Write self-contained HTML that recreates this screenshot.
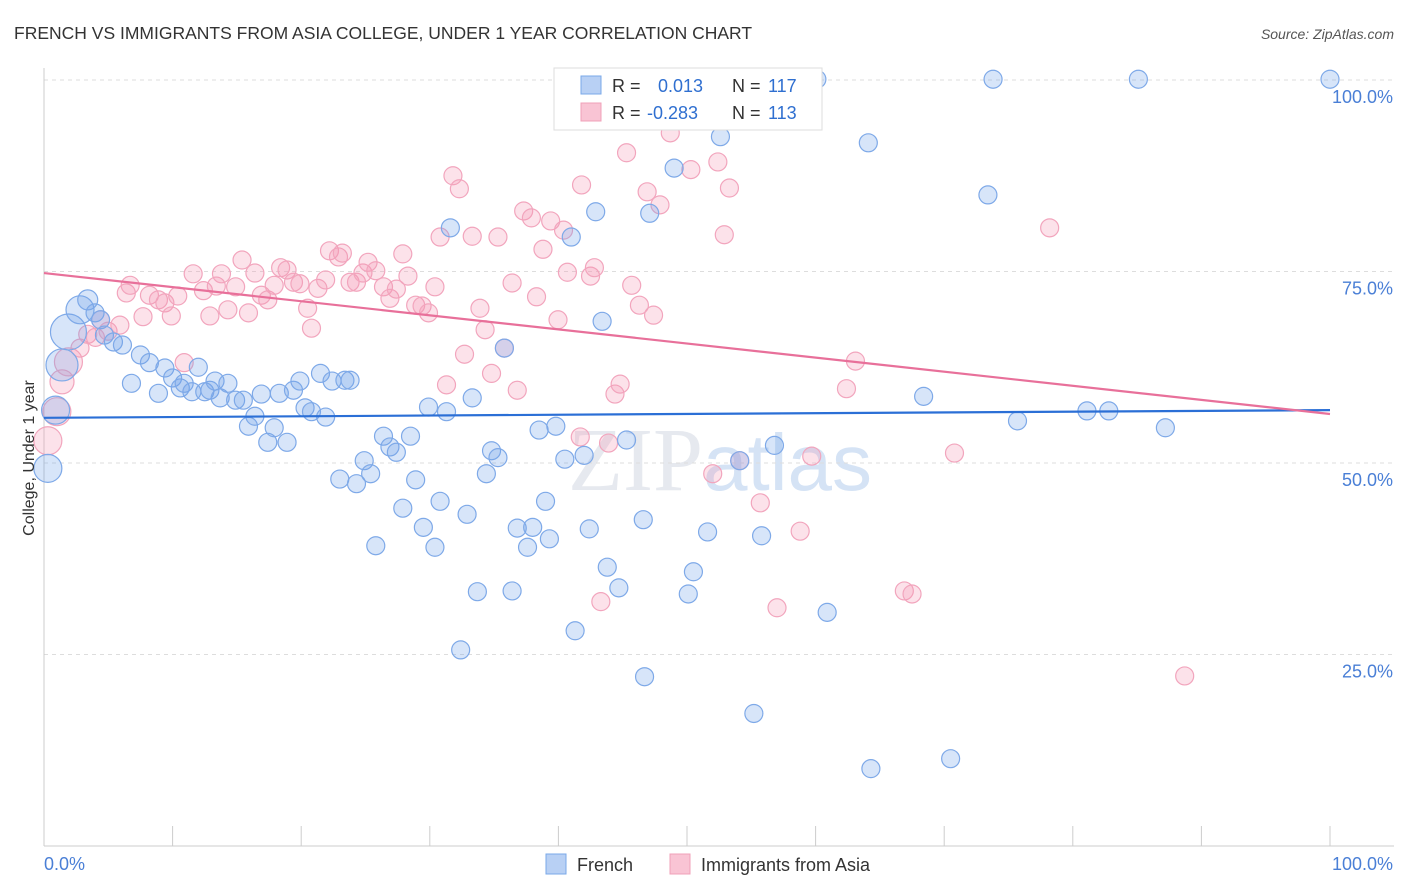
<!DOCTYPE html>
<html><head><meta charset="utf-8"><style>
body{margin:0;background:#fff;font-family:"Liberation Sans",sans-serif;}
svg{display:block}
</style></head><body>
<svg id="chart" width="1406" height="892" xmlns="http://www.w3.org/2000/svg">
<text x="14" y="39" font-size="17.5" fill="#333">FRENCH VS IMMIGRANTS FROM ASIA COLLEGE, UNDER 1 YEAR CORRELATION CHART</text>
<text x="1394" y="39" font-size="14" font-style="italic" fill="#555" text-anchor="end">Source: ZipAtlas.com</text>
<text x="720" y="490" font-size="90" fill="#e6e9ef" text-anchor="middle" font-family="Liberation Serif, serif">ZIP<tspan fill="#d5e3f5" font-family="Liberation Sans, sans-serif" font-size="80">atlas</tspan></text>
<g id="grid"></g>
<g id="axes"></g>
<g id="marks"></g>
<g id="trends"></g>
<text transform="translate(34,458) rotate(-90)" font-size="16" fill="#333" text-anchor="middle">College, Under 1 year</text>
<g>
<rect x="554" y="68" width="268" height="62" fill="#fff" stroke="#ddd"/>
<rect x="581" y="76" width="20" height="18" fill="#b8d0f4" stroke="#7aa8e8"/>
<rect x="581" y="103" width="20" height="18" fill="#f9c4d4" stroke="#f0a0b8"/>
<text x="612" y="92" font-size="18" fill="#333">R =</text>
<text x="658" y="92" font-size="18" fill="#2f6fd0">0.013</text>
<text x="732" y="92" font-size="18" fill="#333">N =</text>
<text x="768" y="92" font-size="18" fill="#2f6fd0">117</text>
<text x="612" y="119" font-size="18" fill="#333">R =</text>
<text x="647" y="119" font-size="18" fill="#2f6fd0">-0.283</text>
<text x="732" y="119" font-size="18" fill="#333">N =</text>
<text x="768" y="119" font-size="18" fill="#2f6fd0">113</text>
</g>
<g>
<rect x="546" y="854" width="20" height="20" fill="#b8d0f4" stroke="#7aa8e8"/>
<text x="577" y="871" font-size="18" fill="#333">French</text>
<rect x="670" y="854" width="20" height="20" fill="#f9c4d4" stroke="#f0a0b8"/>
<text x="701" y="871" font-size="18" fill="#333">Immigrants from Asia</text>
</g>
</svg>
<script>
const blueX=[0.3,0.9,1.4,1.9,2.8,3.4,3.97,4.4,4.7,5.4,6.1,6.8,7.5,8.2,8.9,9.4,10.0,10.6,10.9,11.5,12.0,12.5,12.9,13.3,13.7,14.3,14.9,15.5,15.9,16.4,16.9,17.4,17.9,18.3,18.9,19.4,19.9,20.3,20.8,21.5,21.9,22.4,23.0,23.4,23.8,24.3,24.9,25.4,25.8,26.4,26.9,27.4,27.9,28.5,28.9,29.5,29.9,30.4,30.8,31.3,31.6,32.4,32.9,33.3,33.7,34.4,34.8,35.3,35.8,36.4,36.8,37.6,38.0,38.5,39.0,39.3,39.8,40.5,41.0,41.3,42.0,42.4,42.9,43.4,43.8,44.7,45.3,46.6,46.7,47.1,49.0,50.1,50.5,51.6,52.6,54.1,55.2,55.8,56.8,60.1,60.9,64.1,64.3,68.4,70.5,73.4,73.8,75.7,81.1,82.8,85.1,87.2,100];
const blueY=[49.3,56.9,62.8,67.1,70.0,71.3,69.6,68.7,66.7,65.8,65.4,60.4,64.1,63.1,59.1,62.4,61.1,59.8,60.4,59.3,62.5,59.3,59.5,60.7,58.5,60.4,58.2,58.2,54.8,56.1,59.0,52.7,54.6,59.1,52.7,59.5,60.7,57.2,56.7,61.7,56.0,60.7,47.9,60.8,60.8,47.3,50.3,48.6,39.2,53.5,52.1,51.4,44.1,53.5,47.8,41.6,57.3,39.0,45.0,56.7,80.7,25.6,43.3,58.5,33.2,48.6,51.6,50.7,65.0,33.3,41.5,39.0,41.6,54.3,45.0,40.1,54.8,50.5,79.5,28.1,51.0,41.4,82.8,68.5,36.4,33.7,53.0,42.6,22.1,82.6,88.5,32.9,35.8,41.0,92.6,50.3,17.3,40.5,52.3,100.1,30.5,91.8,10.1,58.7,11.4,85.0,100.1,55.5,56.8,56.8,100.1,54.6,100.1];
const blueR=[14,14,16,18,14,10];
const pinkX=[0.3,1.0,1.4,1.9,2.8,3.4,4.0,4.4,4.98,5.9,6.4,6.7,7.7,8.2,8.9,9.4,9.9,10.4,10.9,11.6,12.4,12.9,13.4,13.8,14.3,14.9,15.4,15.9,16.4,16.9,17.4,17.9,18.4,18.9,19.4,19.9,20.5,20.8,21.3,21.9,22.2,22.9,23.2,23.8,24.3,24.8,25.2,25.8,26.4,26.9,27.4,27.9,28.3,28.9,29.4,29.9,30.4,30.8,31.3,31.8,32.3,32.7,33.3,33.9,34.3,34.8,35.3,35.8,36.4,36.8,37.3,37.9,38.3,38.8,39.4,39.97,40.4,40.7,41.7,41.8,42.5,42.8,43.3,43.9,44.4,44.8,45.3,45.7,46.3,46.9,47.4,47.9,48.7,50.3,52.0,52.4,52.9,53.3,54.1,55.7,57.0,58.8,59.7,62.4,63.1,66.9,67.5,70.8,78.2,88.7];
const pinkY=[52.9,56.7,60.6,63.2,65.0,66.8,66.4,68.7,67.2,68.0,72.2,73.2,69.1,71.9,71.3,70.9,69.2,71.8,63.1,74.7,72.5,69.2,73.1,74.7,70.0,73.0,76.5,69.6,74.8,71.9,71.3,73.2,75.5,75.2,73.6,73.4,70.2,67.6,72.8,73.9,77.7,76.9,77.4,73.6,73.6,74.8,76.2,75.1,73.0,71.5,72.7,77.3,74.4,70.6,70.5,69.6,73.0,79.5,60.2,87.5,85.8,64.2,79.6,70.2,67.4,61.7,79.5,65.0,73.5,59.5,82.9,82.0,71.7,77.9,81.6,68.7,80.4,74.9,53.4,86.3,74.4,75.5,31.9,52.6,59.0,60.3,90.5,73.2,70.6,85.4,69.3,83.7,93.1,88.3,48.6,89.3,79.8,85.9,50.3,44.8,31.1,41.1,50.9,59.7,63.3,33.3,32.9,51.3,80.7,22.2];
const pinkR=[14,14,12,14];
const blueTrend=[55.9,56.9];
const pinkTrend=[74.8,56.4];
const yTicks=[25,50,75,100];
const yTickLabels=["25.0%","50.0%","75.0%","100.0%"];
const xTicks=[0,10,20,30,40,50,60,70,80,90,100];

const NS="http://www.w3.org/2000/svg";
const sx=v=>44+v*12.86;
const sy=v=>846-v*7.66;
function mk(tag,attrs,parent){const e=document.createElementNS(NS,tag);for(const k in attrs)e.setAttribute(k,attrs[k]);parent.appendChild(e);return e;}
const grid=document.getElementById('grid'),axes=document.getElementById('axes'),marks=document.getElementById('marks'),trends=document.getElementById('trends');
yTicks.forEach((t,i)=>{
  const l=mk('line',{x1:44,x2:1394,y1:sy(t),y2:sy(t),stroke:'#ddd','stroke-dasharray':'4,4'},grid);
  
  
  const tx=mk('text',{x:1393,y:sy(t)+23,'font-size':18,fill:'#4a7fd6','text-anchor':'end'},axes);
  tx.textContent=yTickLabels[i];
  
  
});
mk('line',{x1:44,x2:1394,y1:sy(100)+0,y2:sy(100),stroke:'#ddd','stroke-dasharray':'4,4'},grid);
mk('line',{x1:44,x2:44,y1:68,y2:846,stroke:'#ccc'},axes);
mk('line',{x1:44,x2:1394,y1:846,y2:846,stroke:'#ccc'},axes);
xTicks.forEach(t=>{
  const l=mk('line',{x1:sx(t),x2:sx(t),y1:826,y2:846,stroke:'#ccc'},axes);
  
  
});
const x0=mk('text',{x:44,y:870,'font-size':18,fill:'#4a7fd6'},axes);x0.textContent='0.0%';


const x1=mk('text',{x:1393,y:870,'font-size':18,fill:'#4a7fd6','text-anchor':'end'},axes);x1.textContent='100.0%';


pinkX.forEach((x,i)=>{
  const c=mk('circle',{cx:sx(x),cy:sy(pinkY[i]),r:pinkR[i]||9,fill:'rgba(244,150,180,0.28)',stroke:'#f2a5bd','stroke-width':1.2},marks);
  
  
});
blueX.forEach((x,i)=>{
  const c=mk('circle',{cx:sx(x),cy:sy(blueY[i]),r:blueR[i]||9,fill:'rgba(110,160,235,0.28)',stroke:'#7ea9e8','stroke-width':1.2},marks);
  
  
});
const bt=mk('line',{x1:sx(0),x2:sx(100),y1:sy(blueTrend[0]),y2:sy(blueTrend[1]),stroke:'#2b6fd6','stroke-width':2.2},trends);


const pt=mk('line',{x1:sx(0),x2:sx(100),y1:sy(pinkTrend[0]),y2:sy(pinkTrend[1]),stroke:'#e8709a','stroke-width':2.2},trends);


</script>
</body></html>
